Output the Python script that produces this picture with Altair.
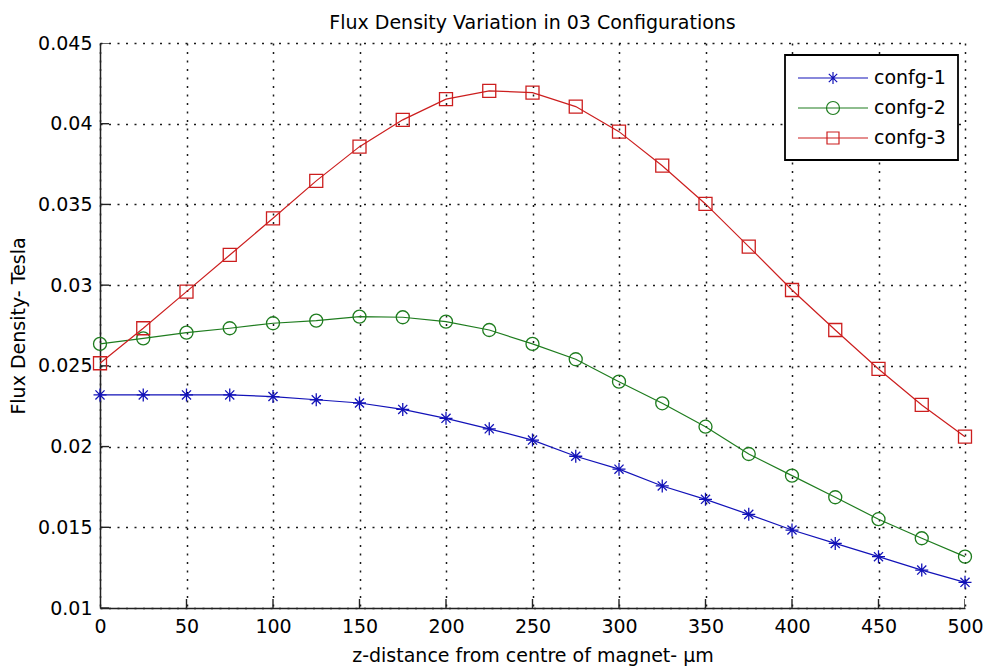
import altair as alt
import pandas as pd

# ---- data ----
z_um = [0, 25, 50, 75, 100, 125, 150, 175, 200, 225, 250, 275, 300, 325, 350,
        375, 400, 425, 450, 475, 500]
confg1 = [0.0232, 0.0232, 0.0232, 0.0232, 0.0231, 0.0229, 0.0227, 0.0223, 0.02175,
          0.0211, 0.0204, 0.0194, 0.0186, 0.01756, 0.01673, 0.0158, 0.01483, 0.0140,
          0.01318, 0.01235, 0.01159]
confg2 = [0.02636, 0.0267, 0.02706, 0.02733, 0.02764, 0.0278, 0.02805, 0.02801, 0.02774,
          0.02722, 0.02636, 0.02541, 0.02402, 0.02268, 0.02123, 0.01954, 0.0182, 0.01686,
          0.0155, 0.01432, 0.01318]
confg3 = [0.02516, 0.02733, 0.0296, 0.03187, 0.03414, 0.03646, 0.03858, 0.04024, 0.04152,
          0.04203, 0.04193, 0.04106, 0.03951, 0.0374, 0.03503, 0.03239, 0.0297, 0.02722,
          0.02481, 0.02258, 0.02061]
series_names = ["confg-1", "confg-2", "confg-3"]
series_colors = ["#1212b8", "#1e7c1e", "#cc1e1e"]
x_ticks = [0, 50, 100, 150, 200, 250, 300, 350, 400, 450, 500]
y_ticks = [0.01, 0.015, 0.02, 0.025, 0.03, 0.035, 0.04, 0.045]

title_text = "Flux Density Variation in 03 Configurations"
x_title = "z-distance from centre of magnet- \u03bcm"
y_title = "Flux Density- Tesla"

rows = []
for name, vals in zip(series_names, [confg1, confg2, confg3]):
    for z, v in zip(z_um, vals):
        rows.append({"z": z, "B": v, "series": name})
df = pd.DataFrame(rows)
xt_df = pd.DataFrame({"t": x_ticks})
yt_df = pd.DataFrame({"v": y_ticks})

FONT = "DejaVu Sans"
FS = 19
W, H = 865, 565

marker_paths = [
    "M-1,0H1M0,-1V1M-0.7,-0.7L0.7,0.7M-0.7,0.7L0.7,-0.7",
    "circle",
    "square",
]
# legend glyphs: a line with the series marker in its middle
legend_paths = [
    "M-1,0H6M2.5,-0.6V0.6M2.08,-0.42L2.92,0.42M2.08,0.42L2.92,-0.42",
    "M-1,0H6M1.85,0A0.65,0.65,0,1,1,3.15,0A0.65,0.65,0,1,1,1.85,0",
    "M-1,0H6M1.9,-0.6H3.1V0.6H1.9Z",
]

color_scale = alt.Scale(domain=series_names, range=series_colors)
x_scale = alt.Scale(domain=[0, 500], nice=False)
y_scale = alt.Scale(domain=[0.01, 0.045], nice=False, zero=False)

legend = alt.Legend(
    title=None,
    orient="none",
    legendX=685,
    legendY=12,
    labelFont=FONT,
    labelFontSize=FS,
    labelColor="black",
    labelOffset=55,
    strokeColor="black",
    fillColor="white",
    padding=12,
    rowPadding=9,
    cornerRadius=0,
    symbolSize=400,
    symbolStrokeWidth=1.2,
    symbolFillColor="transparent",
    symbolOpacity=1,
)
color_enc = alt.Color("series:N", scale=color_scale, legend=legend)

GRID_DASH = [2, 6.5]
x_main = alt.X(
    "z:Q",
    scale=x_scale,
    axis=alt.Axis(
        values=x_ticks, title=x_title, grid=True, tickSize=0, labelPadding=9,
        titlePadding=10, labelFont=FONT, labelFontSize=FS, titleFont=FONT,
        titleFontSize=FS, titleFontWeight="normal", labelColor="black",
        titleColor="black", domainColor="#222222", domainWidth=1.5,
        gridColor="black", gridDash=GRID_DASH, gridWidth=1.5, gridOpacity=0.9,
        labelFlush=False,
    ),
)
y_main = alt.Y(
    "B:Q",
    scale=y_scale,
    axis=alt.Axis(
        values=y_ticks, format=".3~f", title=y_title, grid=True, tickSize=0,
        labelPadding=8, titlePadding=9, labelFont=FONT, labelFontSize=FS,
        titleFont=FONT, titleFontSize=FS, titleFontWeight="normal",
        labelColor="black", titleColor="black", domainColor="#222222",
        domainWidth=1.5, gridColor="black", gridDash=GRID_DASH, gridWidth=1.5,
        gridOpacity=0.9, labelFlush=False,
    ),
)

lines = alt.Chart(df).mark_line(strokeWidth=1.2).encode(
    x=x_main, y=y_main, color=color_enc, detail="series:N",
)

# inward tick marks (MATLAB style), clipped to the plot area
x_tick_marks = alt.Chart(xt_df).mark_tick(
    orient="vertical", size=18, thickness=1.4, color="#222222", clip=True, opacity=1
).encode(
    x=alt.X("t:Q", scale=x_scale, axis=None),
    y=alt.YDatum(y_ticks[0], scale=y_scale, axis=None),
)
y_tick_marks = alt.Chart(yt_df).mark_tick(
    orient="horizontal", size=18, thickness=1.4, color="#222222", clip=True, opacity=1
).encode(
    y=alt.Y("v:Q", scale=y_scale, axis=None),
    x=alt.XDatum(x_ticks[0], scale=x_scale, axis=None),
)

point_layers = []
for name, path in zip(series_names, marker_paths):
    layer = (
        alt.Chart(df)
        .transform_filter(alt.datum.series == name)
        .mark_point(filled=False, shape=path, size=169, strokeWidth=1.3, opacity=1)
        .encode(
            x=alt.X("z:Q", scale=x_scale, axis=None),
            y=alt.Y("B:Q", scale=y_scale, axis=None),
            color=color_enc,
        )
    )
    point_layers.append(layer)

legend_layer = (
    alt.Chart(df)
    .transform_filter(alt.datum.z < 0)
    .mark_point(filled=False, size=400, strokeWidth=1.2)
    .encode(
        x=alt.X("z:Q", scale=x_scale, axis=None),
        y=alt.Y("B:Q", scale=y_scale, axis=None),
        color=color_enc,
        shape=alt.Shape(
            "series:N",
            scale=alt.Scale(domain=series_names, range=legend_paths),
            legend=legend,
        ),
    )
)

chart = (
    alt.layer(lines, x_tick_marks, y_tick_marks, *point_layers, legend_layer)
    .resolve_axis(x="independent", y="independent")
    .properties(
        width=W,
        height=H,
        title=alt.TitleParams(
            text=title_text, font=FONT, fontSize=FS, fontWeight="normal",
            color="black", anchor="middle", offset=1,
        ),
        autosize=alt.AutoSizeParams(type="none"),
        padding={"left": 100, "top": 43, "right": 22, "bottom": 63},
        background="white",
    )
    .configure_view(stroke=None)
    .configure_legend(strokeWidth=1.8)
)

chart.save("out.html", embed_options={"renderer": "svg", "actions": False})
